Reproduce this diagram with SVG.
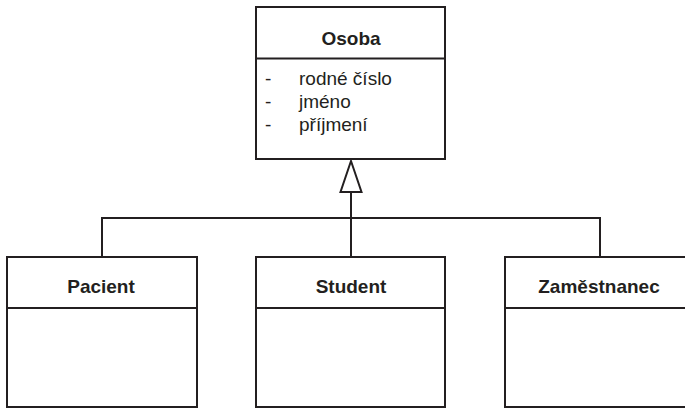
<svg xmlns="http://www.w3.org/2000/svg" width="685" height="408" viewBox="0 0 685 408">
  <style>
    .box { fill: #ffffff; stroke: #231f20; stroke-width: 2; }
    .line { fill: none; stroke: #231f20; stroke-width: 2; }
    .title { font-family: "Liberation Sans", Arial, sans-serif; font-size: 19px; font-weight: bold; fill: #231f20; text-anchor: middle; }
    .attr { font-family: "Liberation Sans", Arial, sans-serif; font-size: 19px; fill: #231f20; }
  </style>
  <rect width="685" height="408" fill="#ffffff"/>

  <!-- generalisation connectors -->
  <g id="connectors">
    <polyline class="line" points="102,257 102,218 600,218 600,257"/>
    <line class="line" x1="351" y1="192" x2="351" y2="257"/>
    <polygon class="line" points="351,161 340.5,192 361.5,192" fill="#ffffff"/>
  </g>

  <g id="osoba">
    <rect class="box" x="256" y="7" width="189" height="152"/>
    <line class="line" x1="256" y1="58.5" x2="445" y2="58.5"/>
    <text class="title" x="351" y="45">Osoba</text>
    <text class="attr" x="265" y="85">-</text>
    <text class="attr" x="299" y="85">rodné číslo</text>
    <text class="attr" x="265" y="108">-</text>
    <text class="attr" x="299" y="108">jméno</text>
    <text class="attr" x="265" y="131">-</text>
    <text class="attr" x="299" y="131">příjmení</text>
  </g>

  <g id="pacient">
    <rect class="box" x="7" y="257" width="190" height="150"/>
    <line class="line" x1="7" y1="308" x2="197" y2="308"/>
    <text class="title" x="101" y="293">Pacient</text>
  </g>

  <g id="student">
    <rect class="box" x="256" y="257" width="189" height="150"/>
    <line class="line" x1="256" y1="308" x2="445" y2="308"/>
    <text class="title" x="351" y="293">Student</text>
  </g>

  <g id="zamestnanec">
    <rect class="box" x="505" y="257" width="190" height="150"/>
    <line class="line" x1="505" y1="308" x2="695" y2="308"/>
    <text class="title" x="599" y="293">Zaměstnanec</text>
  </g>
</svg>
